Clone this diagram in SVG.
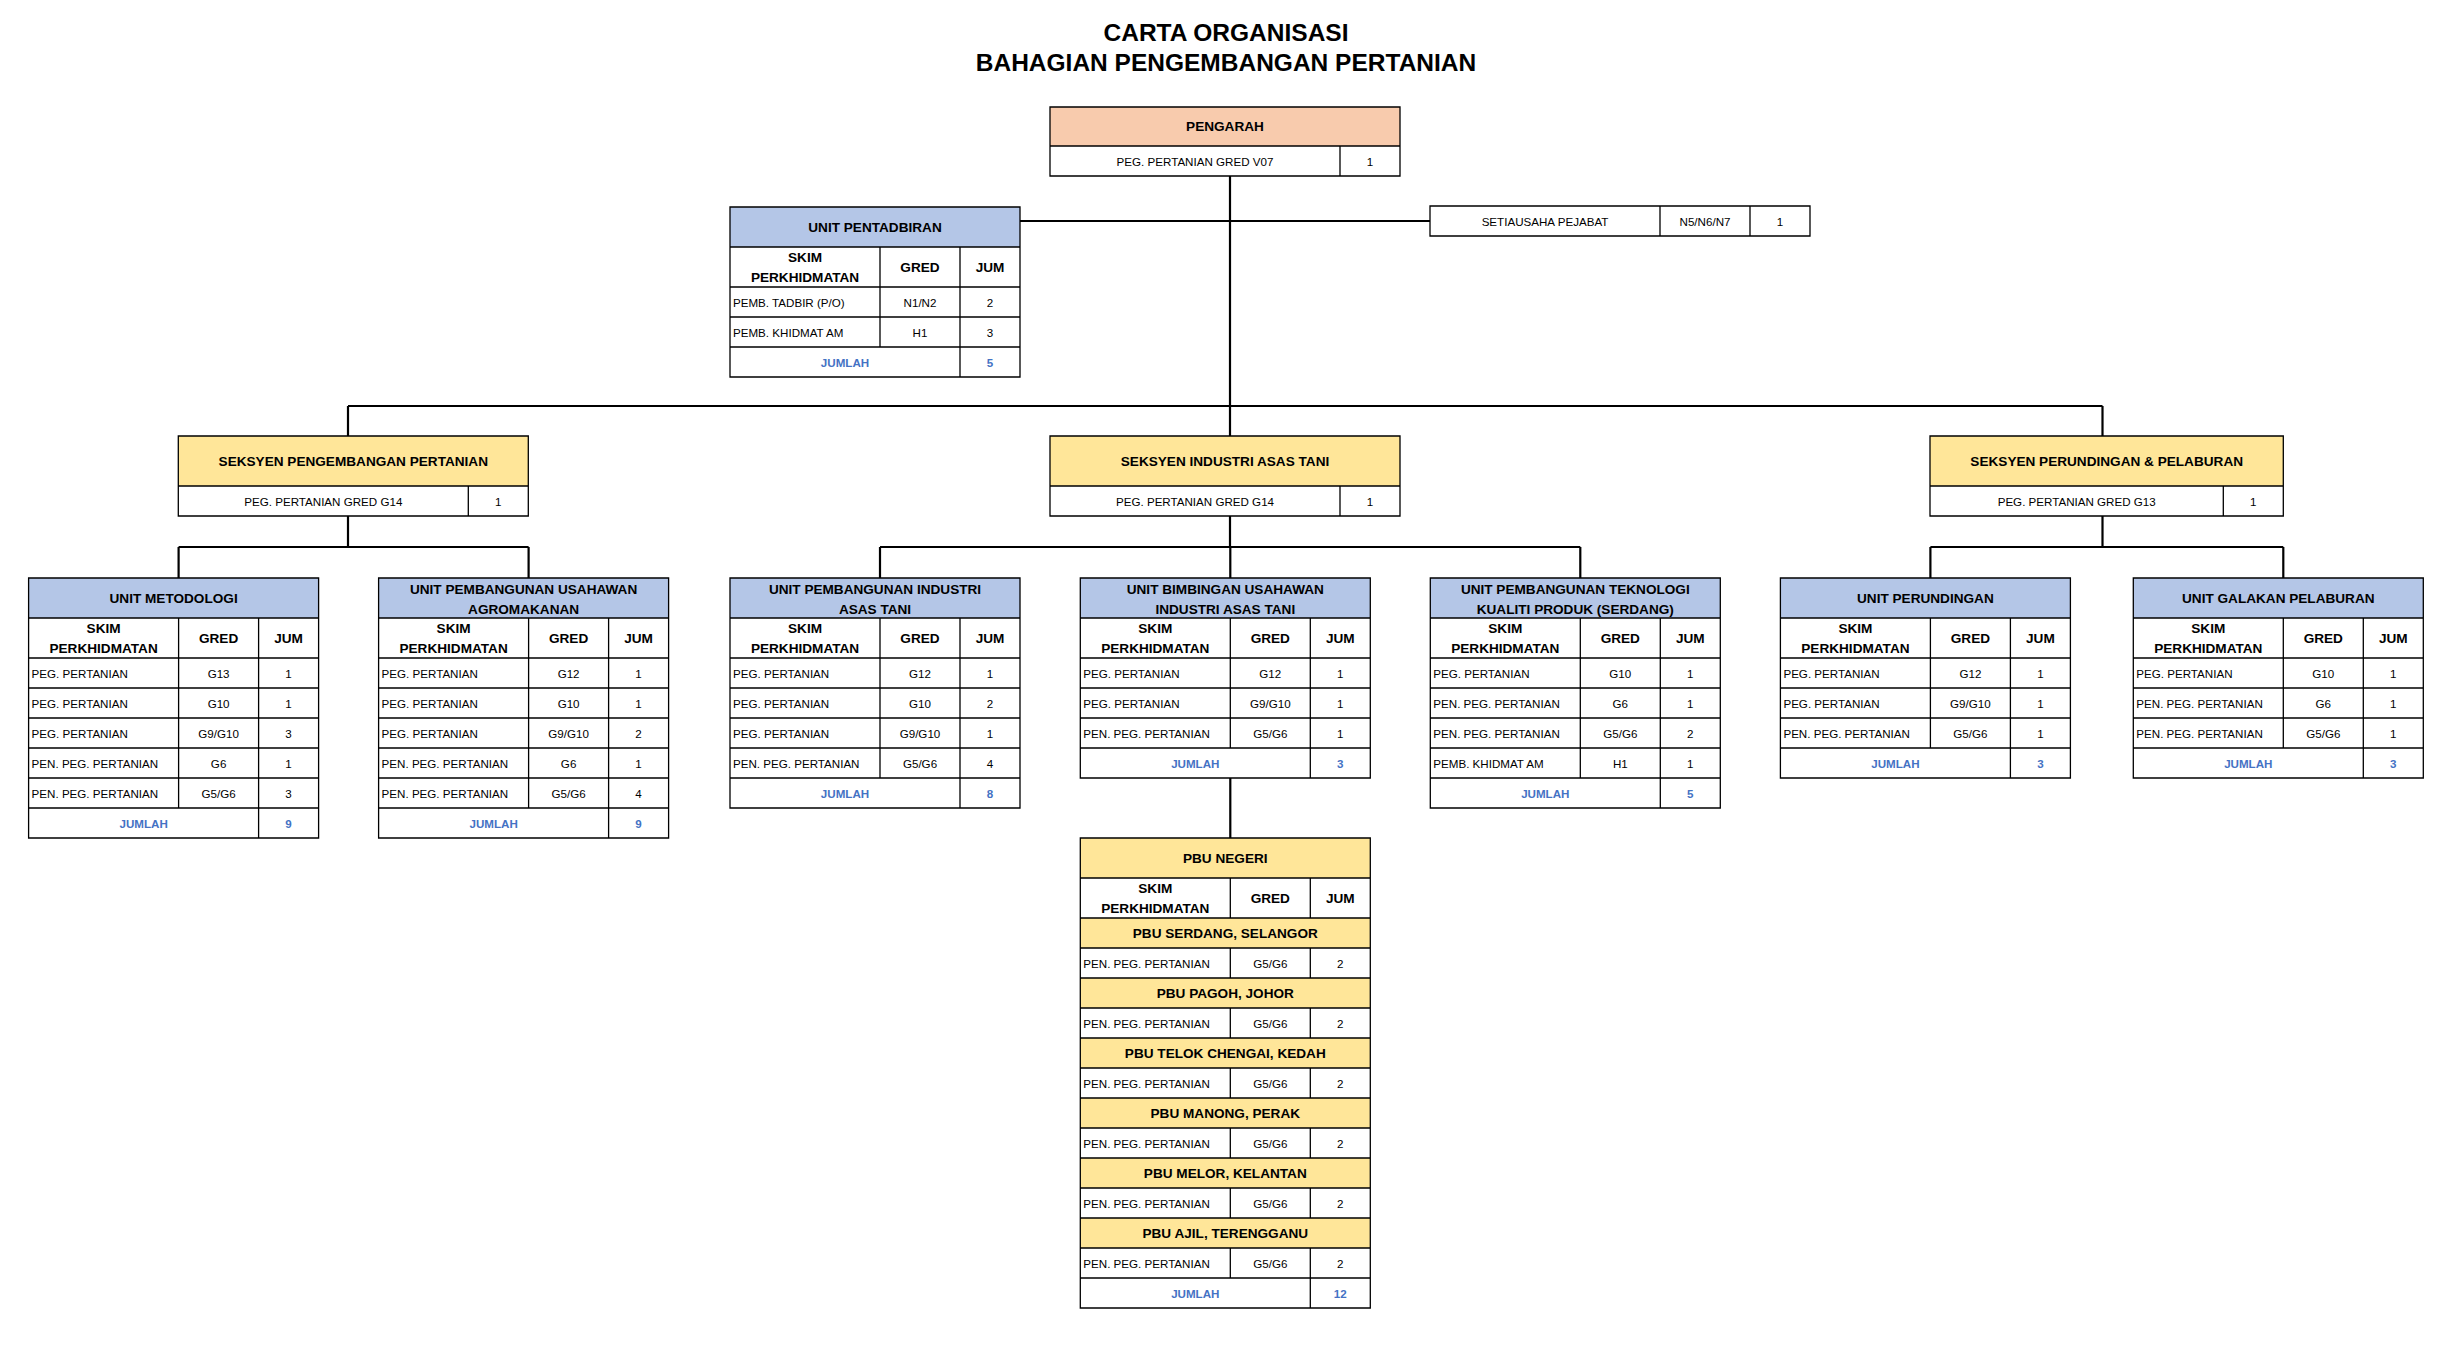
<svg xmlns="http://www.w3.org/2000/svg" width="2456" height="1349" viewBox="0 0 2456 1349">
<style>
text{font-family:"Liberation Sans",Arial,sans-serif;fill:#000;dominant-baseline:central}
.d{font-size:11.6px}
.h{font-size:13.6px;font-weight:bold}
.m{text-anchor:middle}
.j{font-size:11.6px;font-weight:bold;fill:#4472C4;text-anchor:middle}
.g{fill:none;stroke:#000;stroke-width:1.3}
.c{fill:none;stroke:#000;stroke-width:2.2}
.blue{fill:#B4C6E7}
.yel{fill:#FFE699}
.pch{fill:#F8CBAD}
.w{fill:#fff}
.ttl{font-size:24.5px;font-weight:bold;text-anchor:middle}
</style>
<rect width="2456" height="1349" fill="#fff"/>
<g id="title">
<text class="ttl" x="1226" y="32">CARTA ORGANISASI</text>
<text class="ttl" x="1226" y="62.5">BAHAGIAN PENGEMBANGAN PERTANIAN</text>
</g>
<g id="connectors">
<path class="c" d="M1230 176V436M1020 221H1430M348 406H2102.5M348 406V436M2102.5 406V436M348 516V547M178.6 547H528.6M178.6 547V578M528.6 547V578M1230 516V547M880 547H1580.3M880 547V578M1230.3 547V578M1580.3 547V578M2102.5 516V547M1930.4 547H2283.3M1930.4 547V578M2283.3 547V578M1230.3 778V838"/>
</g>
<g id="pengarah" transform="translate(1050,107)">
<rect class="w" width="350" height="69"/>
<rect class="pch" width="350" height="39"/>
<path class="g" d="M0 0H350V69H0ZM0 39H350M290 39V69"/>
<text class="h m" x="175" y="19.5">PENGARAH</text>
<text class="d m" x="145" y="54">PEG. PERTANIAN GRED V07</text>
<text class="d m" x="320" y="54">1</text>
</g>
<g id="setiausaha" transform="translate(1430,206)">
<rect class="w" width="380" height="30"/>
<path class="g" d="M0 0H380V30H0ZM230 0V30M320 0V30"/>
<text class="d m" x="115" y="15">SETIAUSAHA PEJABAT</text>
<text class="d m" x="275" y="15">N5/N6/N7</text>
<text class="d m" x="350" y="15">1</text>
</g>
<g id="unit-pentadbiran" transform="translate(730,207)">
<rect class="w" width="290" height="170"/>
<rect class="blue" width="290" height="40"/>
<path class="g" d="M0 0H290V170H0ZM0 40H290M0 80H290M0 110H290M0 140H290M150 40V140M230 40V170"/>
<text class="h m" x="145" y="20">UNIT PENTADBIRAN</text>
<text class="h m" x="75" y="50">SKIM</text><text class="h m" x="75" y="70">PERKHIDMATAN</text>
<text class="h m" x="190" y="60">GRED</text><text class="h m" x="260" y="60">JUM</text>
<text class="d" x="3" y="95">PEMB. TADBIR (P/O)</text><text class="d m" x="190" y="95">N1/N2</text><text class="d m" x="260" y="95">2</text>
<text class="d" x="3" y="125">PEMB. KHIDMAT AM</text><text class="d m" x="190" y="125">H1</text><text class="d m" x="260" y="125">3</text>
<text class="j" x="115" y="155">JUMLAH</text><text class="j" x="260" y="155">5</text>
</g>
<g id="seksyen-pengembangan" transform="translate(178.3,436)">
<rect class="w" width="350" height="80"/>
<rect class="yel" width="350" height="50"/>
<path class="g" d="M0 0H350V80H0ZM0 50H350M290 50V80"/>
<text class="h m" x="175" y="25">SEKSYEN PENGEMBANGAN PERTANIAN</text>
<text class="d m" x="145" y="65">PEG. PERTANIAN GRED G14</text>
<text class="d m" x="320" y="65">1</text>
</g>
<g id="seksyen-industri" transform="translate(1050,436)">
<rect class="w" width="350" height="80"/>
<rect class="yel" width="350" height="50"/>
<path class="g" d="M0 0H350V80H0ZM0 50H350M290 50V80"/>
<text class="h m" x="175" y="25">SEKSYEN INDUSTRI ASAS TANI</text>
<text class="d m" x="145" y="65">PEG. PERTANIAN GRED G14</text>
<text class="d m" x="320" y="65">1</text>
</g>
<g id="seksyen-perundingan" transform="translate(1930,436)">
<rect class="w" width="353.3" height="80"/>
<rect class="yel" width="353.3" height="50"/>
<path class="g" d="M0 0H353.3V80H0ZM0 50H353.3M293.3 50V80"/>
<text class="h m" x="176.7" y="25">SEKSYEN PERUNDINGAN &amp; PELABURAN</text>
<text class="d m" x="146.7" y="65">PEG. PERTANIAN GRED G13</text>
<text class="d m" x="323.3" y="65">1</text>
</g>
<g id="unit-metodologi" transform="translate(28.6,578)">
<rect class="w" width="290" height="260"/>
<rect class="blue" width="290" height="40"/>
<path class="g" d="M0 0H290V260H0ZM0 40H290M0 80H290M0 110H290M0 140H290M0 170H290M0 200H290M0 230H290M150 40V230M230 40V260"/>
<text class="h m" x="145" y="20">UNIT METODOLOGI</text>
<text class="h m" x="75" y="50">SKIM</text><text class="h m" x="75" y="70">PERKHIDMATAN</text>
<text class="h m" x="190" y="60">GRED</text><text class="h m" x="260" y="60">JUM</text>
<text class="d" x="3" y="95">PEG. PERTANIAN</text><text class="d m" x="190" y="95">G13</text><text class="d m" x="260" y="95">1</text>
<text class="d" x="3" y="125">PEG. PERTANIAN</text><text class="d m" x="190" y="125">G10</text><text class="d m" x="260" y="125">1</text>
<text class="d" x="3" y="155">PEG. PERTANIAN</text><text class="d m" x="190" y="155">G9/G10</text><text class="d m" x="260" y="155">3</text>
<text class="d" x="3" y="185">PEN. PEG. PERTANIAN</text><text class="d m" x="190" y="185">G6</text><text class="d m" x="260" y="185">1</text>
<text class="d" x="3" y="215">PEN. PEG. PERTANIAN</text><text class="d m" x="190" y="215">G5/G6</text><text class="d m" x="260" y="215">3</text>
<text class="j" x="115" y="245">JUMLAH</text><text class="j" x="260" y="245">9</text>
</g>
<g id="unit-agromakanan" transform="translate(378.6,578)">
<rect class="w" width="290" height="260"/>
<rect class="blue" width="290" height="40"/>
<path class="g" d="M0 0H290V260H0ZM0 40H290M0 80H290M0 110H290M0 140H290M0 170H290M0 200H290M0 230H290M150 40V230M230 40V260"/>
<text class="h m" x="145" y="11">UNIT PEMBANGUNAN USAHAWAN</text>
<text class="h m" x="145" y="31">AGROMAKANAN</text>
<text class="h m" x="75" y="50">SKIM</text><text class="h m" x="75" y="70">PERKHIDMATAN</text>
<text class="h m" x="190" y="60">GRED</text><text class="h m" x="260" y="60">JUM</text>
<text class="d" x="3" y="95">PEG. PERTANIAN</text><text class="d m" x="190" y="95">G12</text><text class="d m" x="260" y="95">1</text>
<text class="d" x="3" y="125">PEG. PERTANIAN</text><text class="d m" x="190" y="125">G10</text><text class="d m" x="260" y="125">1</text>
<text class="d" x="3" y="155">PEG. PERTANIAN</text><text class="d m" x="190" y="155">G9/G10</text><text class="d m" x="260" y="155">2</text>
<text class="d" x="3" y="185">PEN. PEG. PERTANIAN</text><text class="d m" x="190" y="185">G6</text><text class="d m" x="260" y="185">1</text>
<text class="d" x="3" y="215">PEN. PEG. PERTANIAN</text><text class="d m" x="190" y="215">G5/G6</text><text class="d m" x="260" y="215">4</text>
<text class="j" x="115" y="245">JUMLAH</text><text class="j" x="260" y="245">9</text>
</g>
<g id="unit-industri" transform="translate(730,578)">
<rect class="w" width="290" height="230"/>
<rect class="blue" width="290" height="40"/>
<path class="g" d="M0 0H290V230H0ZM0 40H290M0 80H290M0 110H290M0 140H290M0 170H290M0 200H290M150 40V200M230 40V230"/>
<text class="h m" x="145" y="11">UNIT PEMBANGUNAN INDUSTRI</text>
<text class="h m" x="145" y="31">ASAS TANI</text>
<text class="h m" x="75" y="50">SKIM</text><text class="h m" x="75" y="70">PERKHIDMATAN</text>
<text class="h m" x="190" y="60">GRED</text><text class="h m" x="260" y="60">JUM</text>
<text class="d" x="3" y="95">PEG. PERTANIAN</text><text class="d m" x="190" y="95">G12</text><text class="d m" x="260" y="95">1</text>
<text class="d" x="3" y="125">PEG. PERTANIAN</text><text class="d m" x="190" y="125">G10</text><text class="d m" x="260" y="125">2</text>
<text class="d" x="3" y="155">PEG. PERTANIAN</text><text class="d m" x="190" y="155">G9/G10</text><text class="d m" x="260" y="155">1</text>
<text class="d" x="3" y="185">PEN. PEG. PERTANIAN</text><text class="d m" x="190" y="185">G5/G6</text><text class="d m" x="260" y="185">4</text>
<text class="j" x="115" y="215">JUMLAH</text><text class="j" x="260" y="215">8</text>
</g>
<g id="unit-bimbingan" transform="translate(1080.3,578)">
<rect class="w" width="290" height="200"/>
<rect class="blue" width="290" height="40"/>
<path class="g" d="M0 0H290V200H0ZM0 40H290M0 80H290M0 110H290M0 140H290M0 170H290M150 40V170M230 40V200"/>
<text class="h m" x="145" y="11">UNIT BIMBINGAN USAHAWAN</text>
<text class="h m" x="145" y="31">INDUSTRI ASAS TANI</text>
<text class="h m" x="75" y="50">SKIM</text><text class="h m" x="75" y="70">PERKHIDMATAN</text>
<text class="h m" x="190" y="60">GRED</text><text class="h m" x="260" y="60">JUM</text>
<text class="d" x="3" y="95">PEG. PERTANIAN</text><text class="d m" x="190" y="95">G12</text><text class="d m" x="260" y="95">1</text>
<text class="d" x="3" y="125">PEG. PERTANIAN</text><text class="d m" x="190" y="125">G9/G10</text><text class="d m" x="260" y="125">1</text>
<text class="d" x="3" y="155">PEN. PEG. PERTANIAN</text><text class="d m" x="190" y="155">G5/G6</text><text class="d m" x="260" y="155">1</text>
<text class="j" x="115" y="185">JUMLAH</text><text class="j" x="260" y="185">3</text>
</g>
<g id="unit-teknologi" transform="translate(1430.3,578)">
<rect class="w" width="290" height="230"/>
<rect class="blue" width="290" height="40"/>
<path class="g" d="M0 0H290V230H0ZM0 40H290M0 80H290M0 110H290M0 140H290M0 170H290M0 200H290M150 40V200M230 40V230"/>
<text class="h m" x="145" y="11">UNIT PEMBANGUNAN TEKNOLOGI</text>
<text class="h m" x="145" y="31">KUALITI PRODUK (SERDANG)</text>
<text class="h m" x="75" y="50">SKIM</text><text class="h m" x="75" y="70">PERKHIDMATAN</text>
<text class="h m" x="190" y="60">GRED</text><text class="h m" x="260" y="60">JUM</text>
<text class="d" x="3" y="95">PEG. PERTANIAN</text><text class="d m" x="190" y="95">G10</text><text class="d m" x="260" y="95">1</text>
<text class="d" x="3" y="125">PEN. PEG. PERTANIAN</text><text class="d m" x="190" y="125">G6</text><text class="d m" x="260" y="125">1</text>
<text class="d" x="3" y="155">PEN. PEG. PERTANIAN</text><text class="d m" x="190" y="155">G5/G6</text><text class="d m" x="260" y="155">2</text>
<text class="d" x="3" y="185">PEMB. KHIDMAT AM</text><text class="d m" x="190" y="185">H1</text><text class="d m" x="260" y="185">1</text>
<text class="j" x="115" y="215">JUMLAH</text><text class="j" x="260" y="215">5</text>
</g>
<g id="unit-perundingan" transform="translate(1780.4,578)">
<rect class="w" width="290" height="200"/>
<rect class="blue" width="290" height="40"/>
<path class="g" d="M0 0H290V200H0ZM0 40H290M0 80H290M0 110H290M0 140H290M0 170H290M150 40V170M230 40V200"/>
<text class="h m" x="145" y="20">UNIT PERUNDINGAN</text>
<text class="h m" x="75" y="50">SKIM</text><text class="h m" x="75" y="70">PERKHIDMATAN</text>
<text class="h m" x="190" y="60">GRED</text><text class="h m" x="260" y="60">JUM</text>
<text class="d" x="3" y="95">PEG. PERTANIAN</text><text class="d m" x="190" y="95">G12</text><text class="d m" x="260" y="95">1</text>
<text class="d" x="3" y="125">PEG. PERTANIAN</text><text class="d m" x="190" y="125">G9/G10</text><text class="d m" x="260" y="125">1</text>
<text class="d" x="3" y="155">PEN. PEG. PERTANIAN</text><text class="d m" x="190" y="155">G5/G6</text><text class="d m" x="260" y="155">1</text>
<text class="j" x="115" y="185">JUMLAH</text><text class="j" x="260" y="185">3</text>
</g>
<g id="unit-galakan" transform="translate(2133.3,578)">
<rect class="w" width="290" height="200"/>
<rect class="blue" width="290" height="40"/>
<path class="g" d="M0 0H290V200H0ZM0 40H290M0 80H290M0 110H290M0 140H290M0 170H290M150 40V170M230 40V200"/>
<text class="h m" x="145" y="20">UNIT GALAKAN PELABURAN</text>
<text class="h m" x="75" y="50">SKIM</text><text class="h m" x="75" y="70">PERKHIDMATAN</text>
<text class="h m" x="190" y="60">GRED</text><text class="h m" x="260" y="60">JUM</text>
<text class="d" x="3" y="95">PEG. PERTANIAN</text><text class="d m" x="190" y="95">G10</text><text class="d m" x="260" y="95">1</text>
<text class="d" x="3" y="125">PEN. PEG. PERTANIAN</text><text class="d m" x="190" y="125">G6</text><text class="d m" x="260" y="125">1</text>
<text class="d" x="3" y="155">PEN. PEG. PERTANIAN</text><text class="d m" x="190" y="155">G5/G6</text><text class="d m" x="260" y="155">1</text>
<text class="j" x="115" y="185">JUMLAH</text><text class="j" x="260" y="185">3</text>
</g>
<g id="pbu-negeri" transform="translate(1080.3,838)">
<rect class="w" width="290" height="470"/>
<rect class="yel" width="290" height="40"/>
<rect class="yel" y="80" width="290" height="30"/>
<rect class="yel" y="140" width="290" height="30"/>
<rect class="yel" y="200" width="290" height="30"/>
<rect class="yel" y="260" width="290" height="30"/>
<rect class="yel" y="320" width="290" height="30"/>
<rect class="yel" y="380" width="290" height="30"/>
<path class="g" d="M0 0H290V470H0ZM0 40H290M0 80H290M0 110H290M0 140H290M0 170H290M0 200H290M0 230H290M0 260H290M0 290H290M0 320H290M0 350H290M0 380H290M0 410H290M0 440H290M150 40V80M230 40V80M150 110V140M230 110V140M150 170V200M230 170V200M150 230V260M230 230V260M150 290V320M230 290V320M150 350V380M230 350V380M150 410V440M230 410V470"/>
<text class="h m" x="145" y="20">PBU NEGERI</text>
<text class="h m" x="75" y="50">SKIM</text><text class="h m" x="75" y="70">PERKHIDMATAN</text>
<text class="h m" x="190" y="60">GRED</text><text class="h m" x="260" y="60">JUM</text>
<text class="h m" x="145" y="95">PBU SERDANG, SELANGOR</text>
<text class="d" x="3" y="125">PEN. PEG. PERTANIAN</text><text class="d m" x="190" y="125">G5/G6</text><text class="d m" x="260" y="125">2</text>
<text class="h m" x="145" y="155">PBU PAGOH, JOHOR</text>
<text class="d" x="3" y="185">PEN. PEG. PERTANIAN</text><text class="d m" x="190" y="185">G5/G6</text><text class="d m" x="260" y="185">2</text>
<text class="h m" x="145" y="215">PBU TELOK CHENGAI, KEDAH</text>
<text class="d" x="3" y="245">PEN. PEG. PERTANIAN</text><text class="d m" x="190" y="245">G5/G6</text><text class="d m" x="260" y="245">2</text>
<text class="h m" x="145" y="275">PBU MANONG, PERAK</text>
<text class="d" x="3" y="305">PEN. PEG. PERTANIAN</text><text class="d m" x="190" y="305">G5/G6</text><text class="d m" x="260" y="305">2</text>
<text class="h m" x="145" y="335">PBU MELOR, KELANTAN</text>
<text class="d" x="3" y="365">PEN. PEG. PERTANIAN</text><text class="d m" x="190" y="365">G5/G6</text><text class="d m" x="260" y="365">2</text>
<text class="h m" x="145" y="395">PBU AJIL, TERENGGANU</text>
<text class="d" x="3" y="425">PEN. PEG. PERTANIAN</text><text class="d m" x="190" y="425">G5/G6</text><text class="d m" x="260" y="425">2</text>
<text class="j" x="115" y="455">JUMLAH</text><text class="j" x="260" y="455">12</text>
</g>
</svg>
